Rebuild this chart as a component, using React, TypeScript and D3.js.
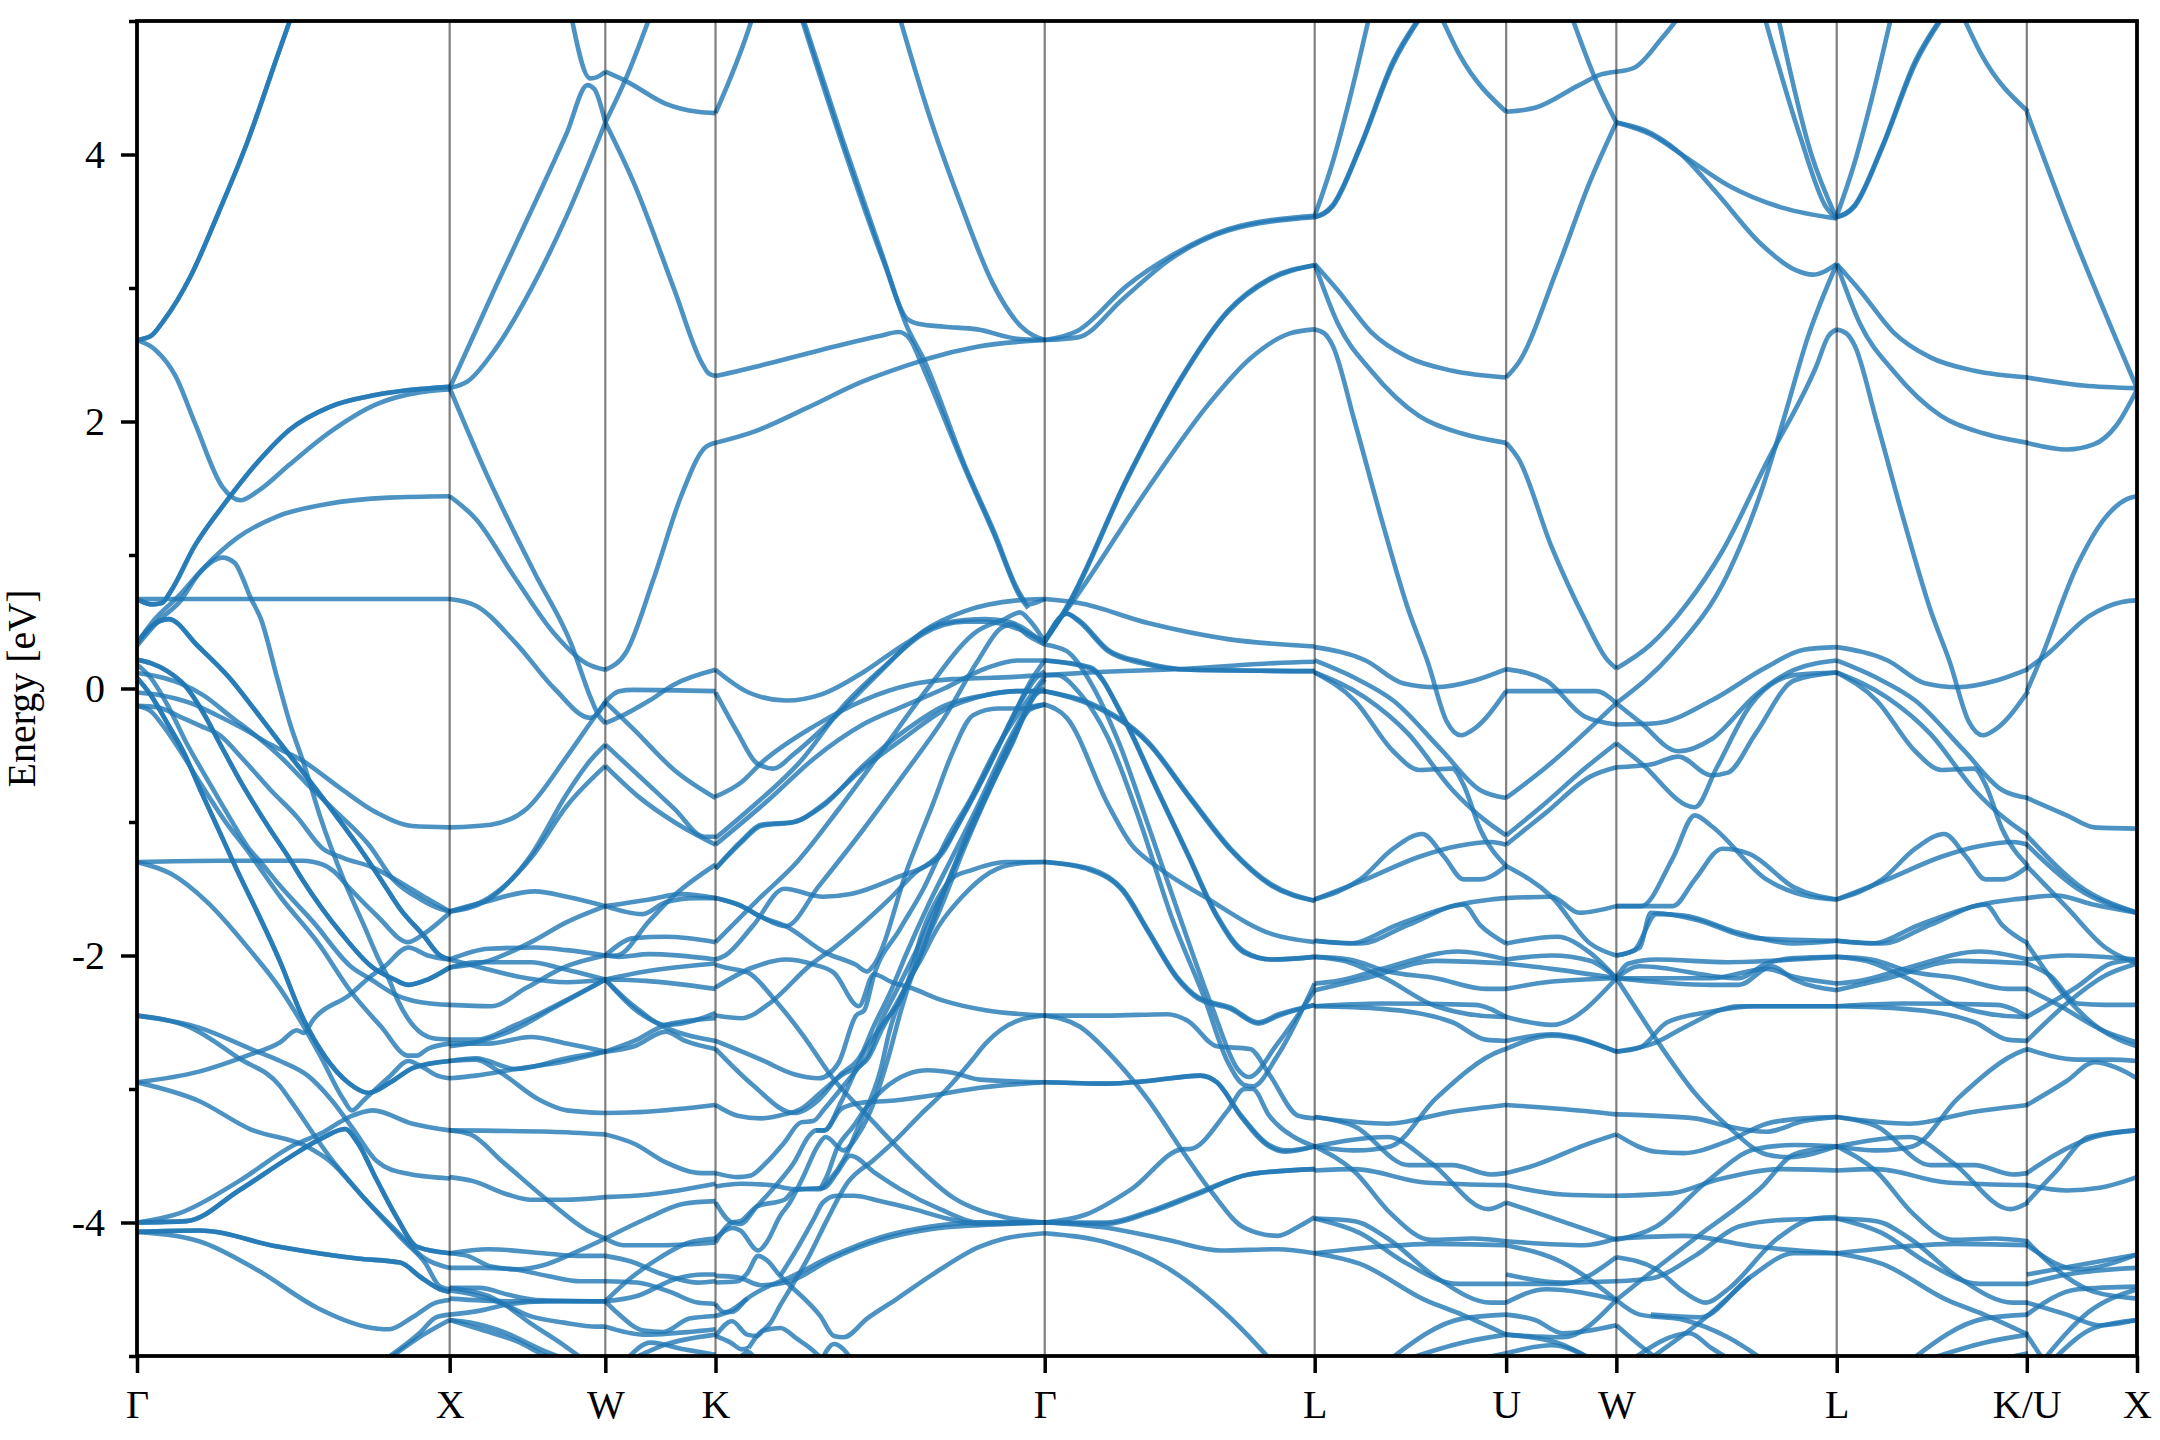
import React, { useRef, useEffect } from 'react';
import * as d3 from 'd3';

// k path distance (arbitrary path units) and symmetry labels
const kTicks = [0, 227, 340, 420, 659, 855, 994, 1074, 1234, 1372, 1452];
const kLabels = ['Γ', 'X', 'W', 'K', 'Γ', 'L', 'U', 'W', 'L', 'K/U', 'X'];
const energyMajor = [-4, -2, 0, 2, 4];
const energyMinor = [-5, -3, -1, 1, 3, 5];
const lToKOffset = 379; // L-K repeats the L-U bands

// every band: k, E, k, E ... (E in eV)
const gammaX = [
  [0,2.61,10,2.64,19,2.75,39,3.09,59,3.56,80,4.09,102,4.74,115,5.12],
  [0,2.61,10,2.64,19,2.75,39,3.09,59,3.56,80,4.09,102,4.74,115,5.12],
  [0,2.61,13,2.54,28,2.34,42,1.99,62,1.51,75,1.41,88,1.48,111,1.68,140,1.92,174,2.13,206,2.22,227,2.24],
  [0,.67,11,.63,18,.64,24,.72,42,1.07,64,1.39,88,1.7,111,1.94,140,2.11,174,2.2,227,2.26],
  [0,.67,11,.63,18,.64,24,.72,42,1.07,64,1.39,88,1.7,111,1.94,140,2.11,174,2.2,227,2.26],
  [0,.34,13,.52,30,.69,49,.91,73,1.13,102,1.29,137,1.38,183,1.43,227,1.44],
  [0,.67,30,.67,100,.67,227,.67],
  [0,.32,16,.51,31,.65,45,.86,62,.98,71,.94,77,.82,82,.69,90,.52,102,.07,111,-.26,121,-.56,133,-.96,150,-1.43,165,-1.78,176,-2.04,183,-2.18,189,-2.33,201,-2.53,215,-2.62,227,-2.63],
  [0,.34,11,.47,23,.52,44,.32,68,.07,87,-.18,104,-.41,123,-.66,145,-.96,164,-1.23,177,-1.43,191,-1.65,208,-1.85,220,-2,227,-2.03],
  [0,.34,11,.47,23,.52,44,.32,68,.07,87,-.18,104,-.41,123,-.66,145,-.96,164,-1.23,177,-1.43,191,-1.65,208,-1.85,220,-2,227,-2.03],
  [0,.215,10,.19,22,.13,35,.02,48,-.18,60,-.41,77,-.73,95,-1.03,111,-1.28,120,-1.43,148,-1.83,170,-2.08,187,-2.18,197,-2.22,211,-2.18,227,-2.09],
  [0,.215,10,.19,22,.13,35,.02,48,-.18,60,-.41,77,-.73,95,-1.03,111,-1.28,120,-1.43,148,-1.83,170,-2.08,187,-2.18,197,-2.22,211,-2.18,227,-2.09],
  [0,.116,15,.09,31,.04,48,-.05,68,-.21,87,-.36,106,-.53,123,-.71,140,-.88,169,-1.18,186,-1.43,206,-1.58,220,-1.65,227,-1.67],
  [0,-.03,17,-.05,39,-.11,58,-.2,77,-.3,97,-.42,120,-.54,148,-.75,174,-.93,200,-1.03,227,-1.04],
  [0,-.13,15,-.14,31,-.21,46,-.28,60,-.35,77,-.53,97,-.76,116,-.96,135,-1.2,150,-1.27,171,-1.34,194,-1.47,210,-1.57,227,-1.67],
  [0,.08,10,-.05,22,-.26,34,-.48,46,-.76,58,-1.03,69,-1.28,104,-2.05,121,-2.48,136,-2.75,153,-2.95,168,-3.03,184,-2.95,201,-2.84,227,-2.79],
  [0,.08,10,-.05,22,-.26,34,-.48,46,-.76,58,-1.03,69,-1.28,104,-2.05,121,-2.48,136,-2.75,153,-2.95,168,-3.03,184,-2.95,201,-2.84,227,-2.79],
  [0,.18,10,.08,22,-.12,36,-.41,51,-.68,68,-.98,82,-1.21,88,-1.28,104,-1.48,128,-1.75,155,-2.08,170,-2.18,189,-2.3,206,-2.35,227,-2.37],
  [0,-.13,10,-.17,19,-.28,31,-.46,46,-.71,63,-.98,82,-1.24,104,-1.56,131,-1.9,156,-2.28,177,-2.53,197,-2.75,203,-2.75,211,-2.7,227,-2.66],
  [0,-1.3,60,-1.29,120,-1.29,135,-1.32,143,-1.37,152,-1.47,174,-1.7,197,-1.9,208,-1.84,227,-1.68],
  [0,-1.3,25,-1.39,51,-1.6,82,-1.96,104,-2.25,121,-2.53,133,-2.75,150,-3.08,156,-3.16,165,-3.08,184,-2.9,197,-2.79,208,-2.84,218,-2.9,227,-2.92],
  [0,-2.45,45,-2.54,85,-2.71,104,-2.79,124,-2.9,141,-3.08,157,-3.3,174,-3.54,194,-3.63,227,-3.67],
  [0,-2.45,39,-2.54,74,-2.77,104,-2.98,111,-3.08,140,-3.51,166,-3.83,194,-4.14,209,-4.3,220,-4.48,227,-4.5],
  [0,-2.95,45,-2.87,80,-2.75,104,-2.65,116,-2.56,121,-2.58,128,-2.48,155,-2.29,168,-2.17,180,-2.08,197,-1.94,211,-2,227,-2.03],
  [0,-2.95,45,-3.09,82,-3.3,125,-3.44,140,-3.54,166,-3.83,189,-4.07,209,-4.27,227,-4.34],
  [0,-4,36,-3.99,74,-3.76,111,-3.51,134,-3.37,151,-3.3,160,-3.4,174,-3.68,189,-3.97,203,-4.18,227,-4.23],
  [0,-4,36,-3.99,74,-3.76,111,-3.51,134,-3.37,151,-3.3,160,-3.4,174,-3.68,189,-3.97,203,-4.18,227,-4.23],
  [0,-4,31,-3.93,74,-3.69,114,-3.42,134,-3.33,154,-3.21,171,-3.16,200,-3.26,227,-3.31],
  [0,-4.07,45,-4.06,102,-4.18,160,-4.27,191,-4.3,206,-4.41,220,-4.5,227,-4.52],
  [0,-4.07,45,-4.06,102,-4.18,160,-4.27,191,-4.3,206,-4.41,220,-4.5,227,-4.52],
  [0,-4.07,45,-4.14,88,-4.36,131,-4.64,166,-4.78,183,-4.8,200,-4.71,217,-4.6,227,-4.58],
  [181,-5.02,206,-4.82,217,-4.71,227,-4.69],
  [183,-5.02,208,-4.84,227,-4.73],
];

const xToW = [
  [227,2.25,260,3,289,3.64,312,4.16,327,4.52,332,4.49,340,4.24],
  [227,2.25,240,2.3,260,2.54,286,2.99,312,3.54,340,4.24],
  [227,2.25,254,1.6,289,.86,315,.34,329,-.06,335,-.2,340,-.26],
  [315,5.05,329,4.57,334,4.58,340,4.62],
  [227,1.44,246,1.27,275,.82,303,.41,326,.19,340,.14],
  [227,.67,246,.62,275,.34,303,0,329,-.22,335,-.18,340,-.1],
  [227,-1.04,257,-1.02,283,-.9,312,-.51,329,-.26,340,-.1],
  [227,-1.67,252,-1.6,286,-1.25,312,-.79,329,-.54,340,-.42],
  [227,-1.67,255,-1.57,286,-1.27,312,-.88,340,-.58],
  [227,-1.67,252,-1.6,289,-1.52,312,-1.56,340,-1.63],
  [227,-2.03,255,-1.95,289,-1.94,312,-1.96,340,-2],
  [227,-2.09,246,-2.05,286,-2.05,309,-2.1,340,-2.18],
  [227,-2.03,246,-2.08,283,-2.17,312,-2.2,340,-2.18],
  [227,-2.09,255,-2.04,286,-1.9,312,-1.75,340,-1.63],
  [227,-2.37,257,-2.38,283,-2.24,312,-2.08,340,-2],
  [227,-2.63,246,-2.63,275,-2.52,303,-2.38,340,-2.18],
  [227,-2.68,246,-2.65,275,-2.55,303,-2.39,340,-2.18],
  [227,-2.79,246,-2.77,275,-2.85,312,-2.77,340,-2.72],
  [227,-2.66,255,-2.66,286,-2.61,312,-2.66,340,-2.72],
  [227,-2.92,246,-2.9,275,-2.85,312,-2.79,340,-2.72],
  [227,-2.79,246,-2.78,263,-2.87,292,-3.08,312,-3.16,340,-3.18],
  [227,-3.31,300,-3.32,340,-3.34],
  [227,-3.31,242,-3.34,266,-3.55,300,-3.85,327,-4.06,340,-4.12],
  [227,-3.66,244,-3.69,269,-3.79,286,-3.83,310,-3.83,340,-3.81],
  [227,-4.23,255,-4.2,295,-4.23,319,-4.25,340,-4.25],
  [227,-4.23,240,-4.25,257,-4.33,276,-4.35,295,-4.32,319,-4.22,340,-4.12],
  [227,-4.34,249,-4.34,273,-4.35,298,-4.4,322,-4.44,340,-4.44],
  [227,-4.49,249,-4.49,269,-4.54,290,-4.58,340,-4.59],
  [227,-4.51,244,-4.54,266,-4.61,285,-4.7,310,-4.75,334,-4.78,340,-4.78],
  [227,-4.57,271,-4.59,340,-4.59],
  [227,-4.69,249,-4.66,271,-4.61,298,-4.59,340,-4.59],
  [227,-4.73,242,-4.75,266,-4.82,293,-4.95,310,-5.02],
  [227,-4.73,249,-4.8,276,-4.89,295,-4.99,305,-5.03],
  [227,-4.49,255,-4.55,269,-4.63,285,-4.75,310,-4.92,322,-5.01],
];

const wToK = [
  [340,4.24,355,4.57,373,5.05],
  [340,4.62,355,4.55,384,4.38,407,4.32,420,4.31],
  [340,4.24,361,3.78,390,2.99,410,2.44,415,2.36,420,2.34],
  [340,.14,355,.27,375,.82,395,1.44,412,1.8,420,1.84],
  [340,-.1,350,-.02,360,-.01,420,-.02],
  [340,-.26,351,-.21,372,-.09,390,.03,420,.14],
  [340,-.1,361,-.31,390,-.61,420,-.82],
  [340,-.42,364,-.65,390,-.9,412,-1.11,420,-1.11],
  [340,-.58,364,-.81,390,-1,420,-1.17],
  [340,-1.63,367,-1.69,384,-1.6,405,-1.57,420,-1.57],
  [340,-1.63,372,-1.58,395,-1.54,420,-1.57],
  [340,-2,348,-2,372,-1.74,390,-1.55,420,-1.32],
  [340,-2,361,-1.87,384,-1.86,420,-1.9],
  [340,-2,350,-2.01,372,-1.99,420,-2.03],
  [340,-2.18,369,-2.12,420,-2.06],
  [340,-2.18,369,-2.19,420,-2.25],
  [340,-2.18,361,-2.38,384,-2.52,410,-2.47,420,-2.43],
  [340,-2.72,361,-2.64,384,-2.52,420,-2.47],
  [340,-2.72,361,-2.68,384,-2.57,398,-2.64,420,-2.7],
  [340,-2.18,361,-2.4,384,-2.54,420,-2.64],
  [340,-3.18,370,-3.17,420,-3.12],
  [340,-3.34,361,-3.41,384,-3.55,410,-3.63,420,-3.63],
  [340,-3.81,372,-3.79,420,-3.71],
  [340,-4.12,370,-3.97,397,-3.86,420,-3.84],
  [340,-4.12,353,-4.17,382,-4.17,420,-4.15],
  [340,-4.25,358,-4.29,382,-4.39,407,-4.45,420,-4.44],
  [340,-4.59,358,-4.42,377,-4.28,401,-4.15,420,-4.12],
  [340,-4.44,363,-4.45,387,-4.52,407,-4.6,420,-4.61],
  [340,-4.59,363,-4.55,392,-4.42,411,-4.39,420,-4.39],
  [340,-4.59,348,-4.67,368,-4.81,382,-4.82,401,-4.72,420,-4.7],
  [340,-4.78,368,-4.84,401,-4.82,420,-4.8],
  [355,-5.03,373,-4.9,397,-4.95,420,-4.99],
  [358,-5.03,382,-4.92,420,-4.84],
];

const kToGamma = [
  [420,4.31,446,5,449,5.1],
  [480,5.1,512,4.08,542,3.2,559,2.77,568,2.73,586,2.71,610,2.69,639,2.62,659,2.61],
  [481,5.1,512,4.12,542,3.22,559,2.71,571,2.47,601,1.67,622,1.18,641,.71,647,.63,659,.67],
  [420,2.34,453,2.42,498,2.54,539,2.64,553,2.67,561,2.62,568,2.47,575,2.3,601,1.65,622,1.16,641,.69,647,.6],
  [420,1.84,447,1.92,486,2.1,527,2.3,565,2.44,574,2.47,610,2.56,659,2.61],
  [553,5.05,574,4.33,598,3.63,621,3.04,642,2.71,659,2.61],
  [420,.14,444,-.03,471,-.09,498,-.04,527,.12,557,.33,586,.49,616,.52,633,.5,659,.33],
  [420,-.03,436,-.33,450,-.56,462,-.6,477,-.49,506,-.22,539,.12,571,.43,601,.58,639,.66,659,.67],
  [420,-.81,439,-.7,453,-.56,492,-.28,527,-.09,562,.03,592,.07,621,.08,659,.1],
  [420,-1.12,444,-.91,483,-.53,512,-.14,542,.16,571,.41,601,.5,616,.5,633,.47,659,.35],
  [420,-1.17,459,-.83,492,-.52,527,-.27,557,-.13,586,0,616,.15,639,.21,659,.21],
  [420,-1.35,439,-1.14,453,-1.02,477,-1,498,-.87,527,-.6,557,-.37,586,-.16,616,-.05,639,-.02,659,-.02],
  [420,-1.35,439,-1.15,453,-1.03,477,-1,498,-.88,527,-.58,557,-.32,586,-.13,616,-.05,639,-.02,659,-.02],
  [420,-1.57,439,-1.63,453,-1.71,471,-1.78,495,-1.48,527,-1.06,557,-.64,586,-.22,610,.2,627,.45,635,.48,648,.39,659,.33],
  [420,-1.57,439,-1.63,453,-1.71,471,-1.78,500,-1.98,522,-2.07,530,-2.12,535,-2.07,560,-1.33,578,-.86,592,-.48,607,-.2,625,-.15,645,-.15,659,-.12],
  [420,-1.9,450,-1.59,480,-1.29,509,-.91,542,-.45,574,0,610,.43,630,.52,641,.57,648,.51,659,.35],
  [420,-2.03,427,-2,447,-1.78,470,-1.5,498,-1.56,518,-1.54,553,-1.41,575,-1.31,585,-1.21,594,-1.06,614,-.68,636,-.21,648,.04,659,.21],
  [420,-2.24,447,-2.09,471,-2.03,492,-2.07,506,-2.13,524,-2.38,535,-2.14,548,-2.2,561,-2.24,586,-2.34,616,-2.41,659,-2.45],
  [420,-2.07,427,-2.09,444,-2.13,462,-2.32,483,-2.59,506,-2.93,533,-3.23,562,-3.54,592,-3.81,630,-3.96,659,-4],
  [420,-2.45,439,-2.47,459,-2.36,489,-2.07,505,-1.95,527,-1.76,546,-1.58,565,-1.38,585,-1.23,599,-.96,616,-.63,640,-.13,652,.07,659,.13],
  [420,-2.64,453,-2.78,477,-2.89,495,-2.92,509,-2.81,522,-2.45,528,-2.41,535,-2.15,554,-1.8,571,-1.5,588,-1.13,605,-.83,625,-.43,645,-.11,659,.09],
  [420,-2.7,447,-2.97,477,-3.18,495,-3.08,509,-2.91,527,-2.72,534,-2.55,548,-2.25,558,-2,575,-1.61,592,-1.26,609,-.91,631,-.43,648,-.11,659,.07],
  [420,-3.12,436,-3.2,453,-3.22,470,-3.19,482,-3.15,496,-3.03,511,-2.9,530,-2.78,541,-2.55,553,-2.33,565,-2.1,582,-1.63,602,-1.11,619,-.73,636,-.36,648,-.16,659,-.12],
  [420,-3.63,436,-3.66,445,-3.65,457,-3.55,470,-3.4,482,-3.25,491,-3.24,499,-3.15,511,-3,523,-2.85,530,-2.76,540,-2.5,552,-2.25,565,-1.98,582,-1.6,600,-1.18,617,-.8,636,-.4,648,-.14,659,-.12],
  [420,-3.73,438,-3.71,460,-3.72,477,-3.75,496,-3.75,503,-3.68,513,-3.53,525,-3.25,540,-2.85,546,-2.58,558,-2.23,568,-2.05,582,-1.78,599,-1.56,619,-1.38,640,-1.31,659,-1.3],
  [420,-3.85,432,-4,438,-4.01,450,-3.88,464,-3.72,477,-3.55,488,-3.35,493,-3.31,499,-3.31,511,-3.1,523,-2.83,528,-2.72,541,-2.52,558,-2.25,570,-1.83,582,-1.56,592,-1.42,606,-1.36,631,-1.3,659,-1.3],
  [420,-4.12,432,-4.04,438,-4.06,451,-4.21,457,-4.15,467,-3.95,474,-3.85,484,-3.65,494,-3.43,500,-3.36,513,-3.46,523,-3.35,535,-3.1,545,-2.78,555,-2.4,566,-2.05,582,-1.68,602,-1.16,619,-.76,640,-.3,652,-.05,659,0],
  [420,-4.15,432,-4,438,-3.99,450,-3.88,470,-3.83,477,-3.76,482,-3.75,499,-3.74,508,-3.63,518,-3.5,536,-3.63,554,-3.75,583,-3.9,612,-4,659,-4],
  [493,-3.31,499,-3.31,511,-3.15,518,-3.12,528,-3.1,545,-3.09,576,-3.05,612,-2.99,659,-2.95],
  [496,-3.75,501,-3.65,508,-3.45,520,-3.28,530,-3.13,542,-3,559,-2.89,574,-2.86,593,-2.88,612,-2.93,659,-2.95],
  [420,-4.4,436,-4.41,453,-4.47,474,-4.44,503,-4.28,540,-4.13,576,-4.05,612,-4.02,659,-4],
  [420,-4.61,426,-4.67,432,-4.67,443,-4.57,460,-4.47,474,-4.41,503,-4.26,540,-4.11,576,-4.03,612,-4,659,-4],
  [420,-4.45,436,-4.44,443,-4.38,451,-4.25,457,-4.28,467,-4.4,474,-4.47,496,-4.7,506,-4.85,513,-4.86,530,-4.72,552,-4.57,576,-4.4,612,-4.18,630,-4.12,659,-4.08],
  [467,-4.4,479,-4.2,491,-3.98,498,-3.85,508,-3.8,520,-3.8,540,-3.84,564,-3.9,588,-3.97,612,-4.01,659,-4],
  [444,-4.94,450,-4.85,460,-4.75,467,-4.62,474,-4.5,488,-4.25,501,-3.98,516,-3.7,535,-3.53,549,-3.4,569,-3.19,588,-3,605,-2.8,616,-2.66,639,-2.49,659,-2.45],
  [420,-4.85,431,-4.9,439,-4.95,444,-4.94],
  [420,-4.85,432,-4.74,443,-4.84,450,-4.85,455,-4.81,467,-4.79,479,-4.87,491,-4.96,498,-5.03],
  [420,-4.7,431,-4.66,443,-4.57],
  [436,-5.03,444,-4.97,449,-5.03],
  [497,-5.03,506,-4.91,513,-4.95,519,-5.03],
];

const gammaToL = [
  [659,2.61,683,2.68,719,3.02,754,3.26,792,3.44,855,3.54],
  [659,2.61,683,2.63,716,2.92,748,3.2,792,3.43,855,3.53],
  [659,.67,684,.64,734,.49,792,.37,855,.315],
  [659,.35,676,.63,719,1.58,757,2.31,792,2.83,822,3.07,855,3.17],
  [659,.35,676,.62,719,1.57,757,2.3,792,2.82,822,3.06,855,3.17],
  [659,.37,680,.66,734,1.5,778,2.13,808,2.47,837,2.66,855,2.69],
  [659,.35,675,.56,684,.51,705,.29,729,.2,765,.14,855,.13],
  [659,.35,675,.56,684,.5,705,.28,729,.19,765,.14,855,.13],
  [659,.1,692,.12,765,.15,826,.19,855,.2],
  [659,-.02,692,-.12,734,-.41,765,-.83,794,-1.21,824,-1.48,855,-1.59],
  [659,-.02,692,-.11,734,-.4,765,-.82,794,-1.2,824,-1.47,855,-1.59],
  [659,-.12,675,-.22,705,-.87,722,-1.17,740,-1.33,775,-1.56,824,-1.84,855,-1.9],
  [659,.21,692,.16,716,-.22,740,-.75,763,-1.25,784,-1.71,804,-1.98,824,-2.03,855,-2.01],
  [659,.21,692,.15,716,-.21,740,-.74,763,-1.24,784,-1.7,804,-1.97,824,-2.03,855,-2.01],
  [659,.33,675,.28,692,.05,713,-.41,734,-1.02,757,-1.71,781,-2.4,799,-2.85,807,-2.91,828,-2.66,855,-2.26],
  [659,.1,668,.1,684,-.03,705,-.37,729,-1.02,751,-1.71,775,-2.32,792,-2.8,804,-2.97,810,-2.98,828,-2.75,855,-2.21],
  [659,-1.3,692,-1.36,716,-1.52,734,-1.82,755,-2.17,770,-2.32,794,-2.4,814,-2.51,829,-2.45,855,-2.37],
  [659,-1.3,692,-1.35,716,-1.51,734,-1.81,755,-2.16,770,-2.31,794,-2.39,814,-2.5,829,-2.44,855,-2.37],
  [659,-2.45,704,-2.45,748,-2.44,763,-2.49,784,-2.68,808,-2.7,822,-2.89,843,-3.2,855,-3.22],
  [659,-2.45,684,-2.53,710,-2.78,734,-3.08,760,-3.48,780,-3.77,804,-4.04,828,-4.1,845,-4.02,855,-3.96],
  [659,-2.95,704,-2.96,734,-2.94,772,-2.9,784,-2.95,801,-3.2,822,-3.43,834,-3.47,855,-3.43],
  [659,-2.95,704,-2.96,734,-2.94,772,-2.9,784,-2.95,801,-3.19,822,-3.42,834,-3.46,855,-3.43],
  [659,-4,689,-3.94,722,-3.75,760,-3.45,764,-3.45,792,-3.16,804,-3,810,-3,822,-3.2,840,-3.36,855,-3.43],
  [659,-4,704,-4,734,-3.92,772,-3.77,807,-3.64,855,-3.6],
  [659,-4,704,-4.01,734,-3.93,772,-3.78,807,-3.64,855,-3.6],
  [659,-4,704,-4.04,748,-4.13,787,-4.21,828,-4.2,855,-4.23],
  [659,-4.08,704,-4.15,748,-4.34,787,-4.65,816,-4.95,823,-5.03],
];

const lToU = [
  [855,3.54,868,3.94,880,4.4,895,5.05],
  [855,3.53,868,3.61,888,4.05,912,4.68,932,5.03],
  [855,3.53,868,3.62,888,4.06,912,4.7,932,5.04],
  [946,5.05,960,4.75,994,4.32],
  [855,3.18,872,2.98,896,2.67,923,2.48,955,2.38,994,2.33],
  [855,3.18,872,2.73,896,2.38,931,2.04,962,1.91,994,1.84],
  [855,2.69,862,2.66,868,2.57,884,2,904,1.25,923,.59,937,.2,951,-.25,961,-.35,971,-.3,994,-.02],
  [855,.31,892,.21,919,.04,943,.01,971,.06,994,.145],
  [855,.21,884,.08,912,-.09,947,-.46,975,-.76,994,-.82],
  [855,.12,884,-.09,912,-.47,931,-.61,955,-.6,963,-.72,975,-1.05,994,-1.33],
  [855,.12,892,-.07,923,-.34,955,-.76,979,-.99,994,-1.1],
  [855,-1.58,888,-1.43,912,-1.2,933,-1.09,949,-1.26,963,-1.43,975,-1.43,994,-1.33],
  [855,-1.58,892,-1.43,931,-1.26,959,-1.18,983,-1.15,994,-1.17],
  [855,-1.89,880,-1.91,915,-1.77,959,-1.62,983,-1.58,994,-1.57],
  [855,-1.89,888,-1.91,923,-1.77,963,-1.62,975,-1.77,994,-1.91],
  [855,-2.01,880,-2.03,908,-2.12,943,-2.17,979,-2.25,994,-2.25],
  [855,-2.01,876,-2.04,906,-2.17,943,-2.38,991,-2.46,994,-2.46],
  [855,-2.21,872,-2.19,904,-2.1,959,-1.97,994,-2.03],
  [855,-2.26,892,-2.17,943,-2.04,994,-2.06],
  [855,-2.38,904,-2.36,971,-2.37,994,-2.46],
  [855,-2.38,904,-2.4,955,-2.5,979,-2.63,994,-2.64],
  [855,-3.21,908,-3.26,955,-3.17,994,-3.12],
  [855,-3.21,884,-3.28,923,-3.57,955,-3.57,983,-3.64,994,-3.63],
  [855,-3.43,885,-3.46,910,-3.43,943,-3.07,991,-2.71,994,-2.7],
  [855,-3.43,908,-3.36,939,-3.55,981,-3.9,994,-3.85],
  [855,-3.43,884,-3.62,910,-3.93,939,-4.13,970,-4.12,994,-4.14],
  [855,-3.61,884,-3.6,935,-3.7,994,-3.72],
  [855,-3.97,884,-3.99,908,-4.12,943,-4.41,983,-4.6,994,-4.6],
  [855,-3.97,888,-4.08,919,-4.29,959,-4.46,994,-4.46],
  [855,-4.23,904,-4.18,939,-4.16,994,-4.17],
  [855,-4.23,888,-4.31,935,-4.58,962,-4.69,994,-4.84],
  [909,-5.03,962,-4.72,994,-4.69],
  [920,-5.03,962,-4.9,994,-4.84],
  [970,-5.03,994,-4.98],
];

const uToW = [
  [994,4.32,1015,4.35,1047,4.52,1063,4.6,1074,4.62],
  [994,2.33,1003,2.44,1031,3.14,1055,3.8,1074,4.24],
  [994,1.84,1003,1.72,1027,1.06,1051,.52,1067,.22,1074,.15],
  [1041,5.05,1059,4.56,1074,4.24],
  [994,.145,1023,.06,1051,-.21,1074,-.27],
  [994,-.02,1059,-.02,1074,-.11],
  [994,-.82,1023,-.59,1074,-.11],
  [994,-1.1,1019,-.89,1051,-.6,1074,-.41],
  [994,-1.17,1023,-.93,1055,-.66,1074,-.59],
  [994,-1.33,1027,-1.56,1055,-1.91,1074,-2],
  [994,-1.57,1027,-1.56,1047,-1.68,1074,-1.63],
  [994,-1.91,1031,-1.86,1055,-1.98,1074,-2.17],
  [994,-2.03,1027,-2,1055,-2.04,1074,-2.17],
  [994,-2.06,1027,-2.1,1074,-2.17],
  [994,-2.25,1023,-2.2,1074,-2.17],
  [994,-2.46,1027,-2.52,1074,-2.17],
  [994,-2.64,1027,-2.59,1074,-2.72],
  [994,-2.7,1027,-2.6,1074,-2.72],
  [994,-3.12,1035,-3.15,1074,-3.19],
  [994,-3.63,1015,-3.57,1051,-3.42,1074,-3.34],
  [994,-3.72,1035,-3.79,1074,-3.8],
  [994,-3.85,1023,-3.95,1074,-4.13],
  [994,-4.14,1051,-4.17,1074,-4.12],
  [994,-4.17,1035,-4.3,1074,-4.58],
  [994,-4.46,1035,-4.46,1074,-4.26],
  [994,-4.39,1035,-4.45,1074,-4.44],
  [994,-4.6,1023,-4.5,1074,-4.58],
  [994,-4.69,1015,-4.73,1035,-4.83,1074,-4.77],
  [994,-4.84,1035,-4.86,1074,-4.58],
  [994,-4.84,1031,-4.9,1057,-5.03],
  [994,-4.98,1027,-4.92,1057,-5.03],
];

const wToL = [
  [1074,4.62,1087,4.65,1107,4.87,1121,5.05],
  [1074,4.24,1099,4.15,1123,3.99,1155,3.77,1195,3.6,1234,3.52],
  [1074,4.24,1095,4.18,1119,4.02,1147,3.71,1179,3.33,1203,3.14,1217,3.1,1234,3.18],
  [1181,5.05,1207,4.15,1226,3.61,1234,3.52],
  [1191,5.05,1215,4.02,1234,3.52],
  [1074,.15,1099,.33,1125,.63,1151,1.03,1183,1.69,1219,2.41,1228,2.64,1234,2.69],
  [1074,-.11,1115,.27,1155,.86,1179,1.47,1195,2,1213,2.63,1234,3.18],
  [1074,-.27,1103,-.26,1143,-.09,1183,.16,1210,.29,1234,.31],
  [1074,-.11,1091,-.25,1119,-.47,1143,-.38,1175,-.05,1203,.14,1234,.21],
  [1074,-.41,1091,-.55,1131,-.89,1147,-.59,1171,-.13,1203,.1,1234,.12],
  [1074,-.59,1099,-.57,1119,-.51,1143,-.65,1155,-.63,1175,-.34,1203,.06,1234,.12],
  [1074,-1.63,1092,-1.63,1115,-1.27,1131,-.95,1143,-1.03,1183,-1.43,1215,-1.56,1234,-1.58],
  [1074,-1.63,1115,-1.63,1131,-1.43,1151,-1.2,1171,-1.24,1203,-1.49,1234,-1.58],
  [1074,-2,1087,-1.96,1103,-1.69,1123,-1.7,1163,-1.83,1203,-1.91,1234,-1.89],
  [1074,-2,1091,-1.94,1099,-1.68,1131,-1.73,1175,-1.87,1234,-1.89],
  [1074,-2.17,1083,-2.06,1103,-2.03,1155,-2.05,1203,-2.03,1234,-2.01],
  [1074,-2.17,1091,-2.08,1163,-2.17,1183,-2.06,1203,-2.02,1234,-2.01],
  [1074,-2.17,1143,-2.17,1183,-2.1,1203,-2.16,1234,-2.21],
  [1074,-2.17,1143,-2.22,1163,-2.22,1187,-2.08,1203,-2.18,1234,-2.26],
  [1074,-2.17,1091,-2.44,1107,-2.69,1131,-3.03,1155,-3.28,1183,-3.49,1199,-3.51,1234,-3.43],
  [1074,-2.72,1091,-2.69,1111,-2.5,1143,-2.42,1175,-2.38,1234,-2.38],
  [1074,-2.72,1103,-2.65,1123,-2.54,1163,-2.38,1234,-2.38],
  [1074,-3.19,1131,-3.22,1155,-3.28,1183,-3.32,1210,-3.24,1234,-3.21],
  [1074,-3.34,1103,-3.47,1123,-3.48,1155,-3.39,1183,-3.26,1210,-3.22,1234,-3.21],
  [1074,-3.8,1115,-3.78,1147,-3.68,1195,-3.6,1234,-3.61],
  [1074,-4.13,1103,-4.03,1139,-3.7,1175,-3.45,1203,-3.42,1234,-3.43],
  [1074,-4.12,1123,-4.1,1175,-4.18,1234,-4.23],
  [1074,-4.26,1103,-4.35,1123,-4.52,1139,-4.6,1155,-4.5,1191,-4.12,1218,-3.97,1234,-3.96],
  [1074,-4.44,1099,-4.42,1131,-4.25,1163,-4.03,1195,-3.98,1234,-3.97],
  [1074,-4.58,1091,-4.44,1131,-4.12,1179,-3.74,1203,-3.49,1234,-3.43],
  [1099,-4.69,1135,-4.71,1171,-4.41,1203,-4.23,1234,-4.23],
  [1074,-4.58,1091,-4.69,1123,-4.73,1155,-4.86,1181,-5.03],
  [1074,-4.77,1091,-4.92,1105,-5.03],
  [1085,-5.03,1127,-4.83,1143,-4.94,1157,-5.03],
  [1097,-5.03,1139,-4.71,1171,-4.41],
];

const uToX = [
  [1372,4.32,1401,3.52,1452,2.25],
  [1372,2.33,1413,2.27,1452,2.25],
  [1372,1.84,1401,1.79,1421,1.83,1437,1.97,1452,2.24],
  [1372,-.02,1382,.22,1409,.93,1429,1.28,1445,1.42,1452,1.44],
  [1372,.145,1386,.25,1417,.54,1442,.65,1452,.66],
  [1372,-.82,1401,-.95,1421,-1.04,1452,-1.05],
  [1372,-1.1,1409,-1.47,1452,-1.68],
  [1372,-1.17,1409,-1.5,1452,-1.68],
  [1372,-1.33,1401,-1.64,1429,-1.94,1452,-2.06],
  [1372,-1.57,1393,-1.55,1421,-1.62,1452,-1.68],
  [1372,-1.91,1397,-2.27,1425,-2.55,1452,-2.68],
  [1372,-2.03,1401,-2,1452,-2.03],
  [1372,-2.06,1389,-2.15,1409,-2.36,1429,-2.37,1452,-2.37],
  [1372,-2.25,1393,-2.36,1429,-2.57,1452,-2.65],
  [1372,-2.46,1409,-2.23,1433,-2.06,1452,-2.03],
  [1372,-2.64,1401,-2.36,1429,-2.15,1452,-2.06],
  [1372,-2.7,1409,-2.78,1433,-2.78,1452,-2.79],
  [1372,-3.12,1401,-2.94,1421,-2.8,1437,-2.84,1452,-2.92],
  [1372,-3.63,1393,-3.49,1421,-3.36,1452,-3.31],
  [1372,-3.72,1401,-3.76,1425,-3.74,1452,-3.66],
  [1372,-3.85,1393,-3.62,1417,-3.36,1452,-3.31],
  [1372,-4.14,1401,-4.41,1421,-4.52,1452,-4.57],
  [1372,-4.17,1409,-4.35,1452,-4.24],
  [1372,-4.39,1409,-4.32,1452,-4.24],
  [1372,-4.46,1401,-4.39,1452,-4.34],
  [1372,-4.6,1401,-4.69,1425,-4.77,1452,-4.73],
  [1372,-4.69,1409,-4.5,1452,-4.48],
  [1372,-4.84,1384,-5.03],
  [1384,-5.03,1417,-4.67,1452,-4.5],
  [1391,-5.03,1421,-4.79,1452,-4.73],
];

const toPoints = (band: number[], offset = 0) =>
  d3.range(0, band.length, 2).map((i) => [band[i] + offset, band[i + 1]] as [number, number]);

const allBands = [
  ...[...gammaX, ...xToW, ...wToK, ...kToGamma, ...gammaToL, ...lToU, ...uToW, ...wToL, ...uToX].map((b) => toPoints(b)),
  ...lToU.map((b) => toPoints(b, lToKOffset)),
];

export default function App() {
  const ref = useRef<SVGSVGElement>(null);

  useEffect(() => {
    const svg = d3.select(ref.current);
    svg.selectAll('*').remove();

    const margin = { top: 21, right: 23, bottom: 84, left: 137 };
    const width = 2160 - margin.left - margin.right;
    const height = 1440 - margin.top - margin.bottom;
    const fontFamily = '"Liberation Serif", serif';

    const x = d3.scaleLinear().domain([0, 1452]).range([0, width]);
    const y = d3.scaleLinear().domain([-5, 5]).range([height, 0]);

    const g = svg.append('g').attr('transform', `translate(${margin.left},${margin.top})`);

    svg.append('defs').append('clipPath').attr('id', 'plot')
      .append('rect').attr('width', width).attr('height', height);

    const line = d3.line<[number, number]>()
      .x((d) => x(d[0]))
      .y((d) => y(d[1]))
      .curve(d3.curveMonotoneX);

    g.append('g').attr('clip-path', 'url(#plot)')
      .selectAll('path')
      .data(allBands)
      .enter()
      .append('path')
      .attr('d', (d) => line(d))
      .attr('fill', 'none')
      .attr('stroke', '#1f77b4')
      .attr('stroke-opacity', 0.8)
      .attr('stroke-width', 4.6)
      .attr('stroke-linejoin', 'round');

    // high symmetry lines
    g.selectAll('.sym')
      .data(kTicks.slice(1, -1))
      .enter()
      .append('line')
      .attr('x1', (d) => x(d))
      .attr('x2', (d) => x(d))
      .attr('y1', 0)
      .attr('y2', height)
      .attr('stroke', '#000')
      .attr('stroke-opacity', 0.5)
      .attr('stroke-width', 2.2);

    const yAxis = d3.axisLeft(y).tickValues(energyMajor).tickSize(16).tickPadding(16)
      .tickFormat((d) => String(d));
    const yG = g.append('g').call(yAxis);
    g.append('g')
      .call(d3.axisLeft(y).tickValues(energyMinor).tickSize(8).tickFormat(() => ''));

    const xAxis = d3.axisBottom(x).tickValues(kTicks).tickSize(17).tickPadding(17)
      .tickFormat((_, i) => kLabels[i]);
    const xG = g.append('g').attr('transform', `translate(0,${height})`).call(xAxis);

    g.selectAll('.domain').remove();
    g.selectAll('.tick line').attr('stroke', '#000').attr('stroke-width', 3.5);
    [yG, xG].forEach((a) =>
      a.selectAll('text').attr('font-family', fontFamily).attr('font-size', 40).attr('fill', '#000')
    );

    g.append('rect')
      .attr('width', width)
      .attr('height', height)
      .attr('fill', 'none')
      .attr('stroke', '#000')
      .attr('stroke-width', 3.8);

    svg.append('text')
      .attr('transform', `translate(35,${margin.top + height / 2}) rotate(-90)`)
      .attr('text-anchor', 'middle')
      .attr('font-family', fontFamily)
      .attr('font-size', 40)
      .text('Energy [eV]');
  }, []);

  return (
    <svg
      ref={ref}
      width={2160}
      height={1440}
      style={{ position: 'absolute', left: 0, top: 0, background: '#fff' }}
    />
  );
}
